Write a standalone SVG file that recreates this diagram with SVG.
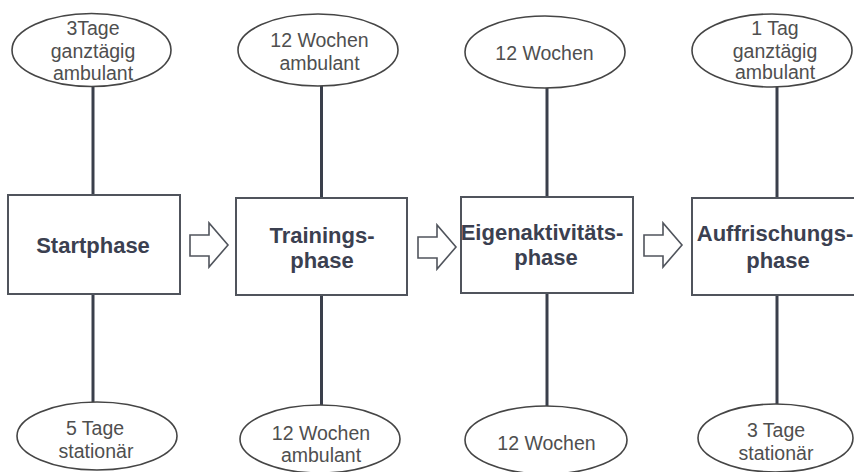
<svg xmlns="http://www.w3.org/2000/svg" width="854" height="472" viewBox="0 0 854 472">
<defs>
<style>
.bg{fill:#ffffff}
.ell{fill:#ffffff;stroke:#454545;stroke-width:1.6}
.box{fill:#ffffff;stroke:#50545c;stroke-width:2}
.ln{stroke:#3a3f4b;stroke-width:3;fill:none}
.arr{fill:#ffffff;stroke:#50545c;stroke-width:1.6;stroke-linejoin:miter}
.et{font-family:"Liberation Sans",Arial,sans-serif;font-size:19.5px;fill:#4f4f4f;text-anchor:middle}
.bt{font-family:"Liberation Sans",Arial,sans-serif;font-size:22px;font-weight:bold;fill:#3b4050;text-anchor:middle}
</style>
<polygon id="blk" points="0,12 19,12 19,0 38,22 19,44 19,33 0,33"/>
</defs>
<rect class="bg" width="854" height="472"/>
<g id="connectors">
<line class="ln" x1="93" y1="86" x2="93" y2="195"/>
<line class="ln" x1="93" y1="294" x2="93" y2="402"/>
<line class="ln" x1="321.5" y1="86" x2="321.5" y2="198"/>
<line class="ln" x1="321.5" y1="295" x2="321.5" y2="405"/>
<line class="ln" x1="547" y1="88" x2="547" y2="197"/>
<line class="ln" x1="547" y1="293" x2="547" y2="406"/>
<line class="ln" x1="777" y1="87" x2="777" y2="198"/>
<line class="ln" x1="777" y1="295" x2="777" y2="404"/>
<use href="#blk" class="arr" x="190" y="223"/>
<use href="#blk" class="arr" x="418" y="225"/>
<use href="#blk" class="arr" x="644" y="223"/>
</g>
<g id="top1"><ellipse class="ell" cx="91.5" cy="50" rx="79.5" ry="36.5"/>
<text class="et"><tspan x="93" y="35">3Tage</tspan><tspan x="93" y="58">ganztägig</tspan><tspan x="93" y="80">ambulant</tspan></text></g>
<g id="top2"><ellipse class="ell" cx="318" cy="50" rx="80" ry="36"/>
<text class="et"><tspan x="319.5" y="47">12 Wochen</tspan><tspan x="319.5" y="70">ambulant</tspan></text></g>
<g id="top3"><ellipse class="ell" cx="545" cy="52" rx="80" ry="36"/>
<text class="et" x="544.5" y="60">12 Wochen</text></g>
<g id="top4"><ellipse class="ell" cx="772" cy="50.5" rx="80" ry="36.5"/>
<text class="et"><tspan x="775" y="35">1 Tag</tspan><tspan x="775" y="58">ganztägig</tspan><tspan x="775" y="79">ambulant</tspan></text></g>
<g id="box1"><rect class="box" x="8" y="195" width="172" height="99"/>
<text class="bt" x="93" y="253">Startphase</text></g>
<g id="box2"><rect class="box" x="236" y="198" width="171" height="97"/>
<text class="bt"><tspan x="322" y="243">Trainings-</tspan><tspan x="322" y="268">phase</tspan></text></g>
<g id="box3"><rect class="box" x="461" y="197" width="172" height="96"/>
<text class="bt"><tspan x="542" y="240">Eigenaktivitäts-</tspan><tspan x="546" y="265">phase</tspan></text></g>
<g id="box4"><rect class="box" x="692" y="198" width="174" height="97"/>
<text class="bt"><tspan x="775" y="241">Auffrischungs-</tspan><tspan x="778" y="268">phase</tspan></text></g>
<g id="bot1"><ellipse class="ell" cx="97" cy="436" rx="80" ry="34"/>
<text class="et"><tspan x="95" y="435">5 Tage</tspan><tspan x="96" y="458">stationär</tspan></text></g>
<g id="bot2"><ellipse class="ell" cx="320" cy="439" rx="80" ry="34"/>
<text class="et"><tspan x="321" y="440">12 Wochen</tspan><tspan x="321" y="462">ambulant</tspan></text></g>
<g id="bot3"><ellipse class="ell" cx="546" cy="440" rx="81" ry="34"/>
<text class="et" x="546.5" y="450">12 Wochen</text></g>
<g id="bot4"><ellipse class="ell" cx="775.5" cy="438" rx="77.5" ry="34"/>
<text class="et"><tspan x="776" y="437">3 Tage</tspan><tspan x="776" y="460">stationär</tspan></text></g>
</svg>
